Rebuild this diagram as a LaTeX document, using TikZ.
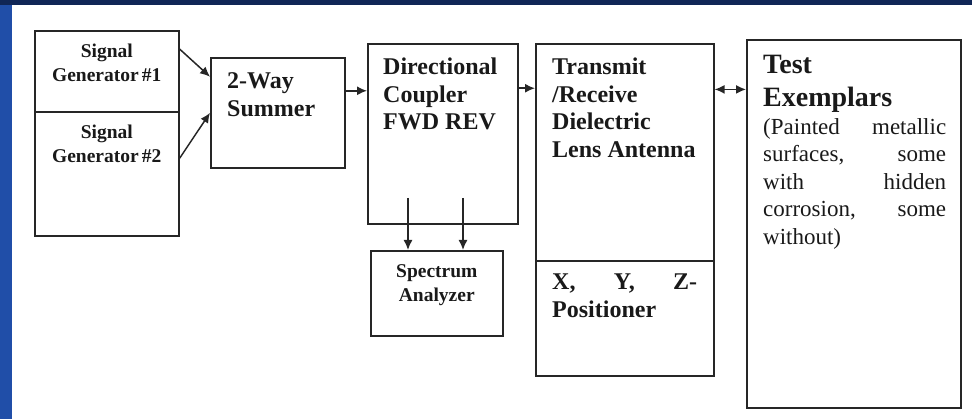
\documentclass[tikz,border=0pt]{standalone}
\usepackage{fontspec}
\setmainfont{Liberation Serif}
\usetikzlibrary{arrows.meta,positioning}
\definecolor{framenavy}{RGB}{16,38,86}
\definecolor{frameblue}{RGB}{32,78,168}
\tikzset{
	blk/.style={draw=black!85, line width=1.6pt, inner sep=0pt, anchor=north west},
	txt/.style={inner sep=0pt, text=black!90, font=\bfseries\fontsize{24}{27.5}\selectfont, align=left},
	smalltxt/.style={txt, font=\bfseries\fontsize{19.5}{24}\selectfont, align=center},
	arr/.style={line width=1.5pt, draw=black!85}
}
\begin{document}
\begin{tikzpicture} [x=1pt,y=-1pt,>={Latex[length=10pt,width=9pt]}]
\useasboundingbox (0,0) rectangle (972,419);
\fill[frameblue] (0,0) rectangle (12,419);
\fill[framenavy] (0,0) rectangle (972,5);

\node[blk, minimum width=144pt, minimum height=81pt] (gen1) at (34,30) {};
\node[blk, minimum width=144pt, minimum height=124pt] (gen2) at (34,111) {};
\node[blk, minimum width=134pt, minimum height=110pt] (summer) at (210,57) {};
\node[blk, minimum width=150pt, minimum height=180pt] (coupler) at (367,43) {};
\node[blk, minimum width=132pt, minimum height=85pt] (analyzer) at (370,250) {};
\node[blk, minimum width=178pt, minimum height=217pt] (antenna) at (535,43) {};
\node[blk, minimum width=178pt, minimum height=115pt] (positioner) at (535,260) {};
\node[blk, minimum width=214pt, minimum height=368pt] (exemplars) at (746,39) {};

\node[smalltxt, below=14pt of gen1.north] (gen1txt) {Signal\\Generator\,\#1};
\node[smalltxt, below=14pt of gen2.north] (gen2txt) {Signal\\Generator\,\#2};
\node[smalltxt, below=14pt of analyzer.north] (analyzertxt) {Spectrum\\Analyzer};
\node[txt, font=\bfseries\fontsize{24}{28.5}\selectfont, below right=15pt and 17pt of summer.north west] (summertxt) {2-Way\\Summer};
\node[txt, below right=15pt and 16pt of coupler.north west] (couplertxt) {Directional\\Coupler\\FWD REV};
\node[txt, below right=15pt and 17pt of antenna.north west] (antennatxt) {Transmit\\/Receive\\Dielectric\\Lens Antenna};
\node[txt, text width=145pt, align=justify, below right=14pt and 17pt of positioner.north west] (positionertxt) {X, Y, Z-\linebreak Positioner};
\node[txt, text width=183pt, align=justify, below right=16pt and 17pt of exemplars.north west] (exemplarstxt) {{\fontsize{28}{33}\selectfont Test\\Exemplars\par}\mdseries\fontsize{23}{28}\selectfont (Painted metallic\linebreak surfaces, some\linebreak with hidden\linebreak corrosion, some\linebreak without)};

\coordinate (tap1) at (408,198);
\coordinate (tap2) at (463,198);

\draw[arr,->] (gen1.17) -- (summer.152);
\draw[arr,->] (gen2.12) -- (summer.west);
\draw[arr,->] (summer.18) -- (summer.18 -| coupler.west);
\draw[arr,->] (coupler.31) -- (coupler.31 -| antenna.west);
\draw[arr,<->] (antenna.35) -- (antenna.35 -| exemplars.west);
\draw[arr,->] (tap1) -- (tap1 |- analyzer.north);
\draw[arr,->] (tap2) -- (tap2 |- analyzer.north);

\end{tikzpicture}
\end{document}
